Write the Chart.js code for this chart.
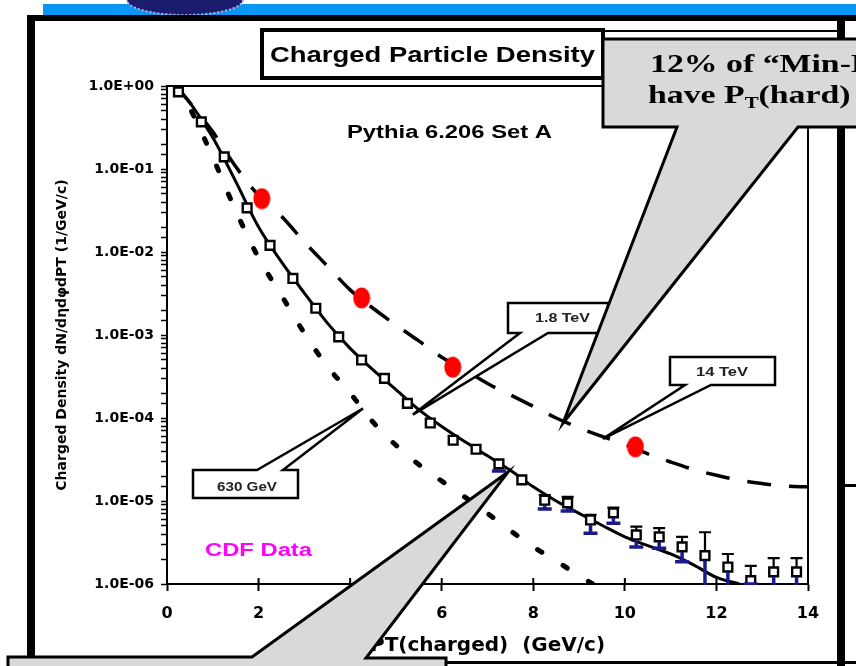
<!DOCTYPE html>
<html>
<head>
<meta charset="utf-8">
<script src="https://cdn.jsdelivr.net/npm/chart.js@4.4.1/dist/chart.umd.min.js"></script>
<style>
    html, body { margin: 0; padding: 0; background: #fff; }
    canvas { display: block; }
</style>
</head>
<body>
<canvas id="densityChart" width="856" height="666"></canvas>
<script>
// CDF data (open squares), PT bin centres in GeV/c
const cdfPt = [0.25, 0.75, 1.25, 1.75, 2.25, 2.75, 3.25, 3.75, 4.25, 4.75, 5.25, 5.75, 6.25, 6.75,
    7.25, 7.75, 8.25, 8.75, 9.25, 9.75, 10.25, 10.75, 11.25, 11.75, 12.25, 12.75, 13.25, 13.75];
const cdfDensity = [0.85, 0.37, 0.14, 0.034, 0.012, 0.0048, 0.0021, 0.00095, 0.0005, 0.0003, 0.00015, 0.000087,
    0.000054, 0.000042, 0.000028, 0.000018, 0.0000102, 0.0000095, 0.0000059, 0.0000072, 0.0000039, 0.0000037,
    0.0000028, 0.0000022, 0.0000016, 0.0000011, 0.0000014, 0.0000014];
// upper end of the error bar (black) and lower end (blue)
const cdfUpper = [null, null, null, null, null, null, null, null, null, null, null, null, null, null,
    null, null, 0.0000118, 0.0000112, 0.0000068, 0.0000083, 0.0000049, 0.0000047, 0.0000037, 0.0000042,
    0.0000023, 0.00000165, 0.00000205, 0.00000205];
const cdfLower = [null, null, null, null, null, null, null, null, null, null, null, null, null, null,
    0.000023, null, 0.000008, 0.0000076, 0.0000041, 0.0000054, 0.0000028, 0.0000027, 0.00000185, 0.0000005,
    0.0000009, 0.000001, 0.0000008, 0.0000008];

// Pythia 6.206 Set A curves
const pt18 = [0.2, 0.5, 1, 1.5, 2, 2.5, 3, 3.5, 4, 4.5, 5, 5.5, 6, 6.5, 7, 7.5, 8, 8.5, 9, 9.5, 10, 10.5, 11, 11.5, 12, 12.5];
const tev18 = [1.0, 0.63, 0.24, 0.071, 0.02, 0.0076, 0.0032, 0.0014, 0.00069, 0.00038, 0.00022, 0.000126, 0.000079,
    0.000052, 0.000035, 0.0000234, 0.0000148, 0.00001, 0.0000071, 0.0000051, 0.0000037, 0.0000029, 0.0000023,
    0.0000017, 0.0000012, 0.000001];
const pt630 = [0.2, 0.5, 1, 1.5, 2, 2.5, 3, 3.5, 4, 4.5, 5, 5.5, 6, 6.5, 7, 7.5, 8, 8.5, 9, 9.3];
const gev630 = [1.0, 0.54, 0.138, 0.0316, 0.0085, 0.003, 0.00105, 0.00042, 0.0002, 0.000089, 0.000047, 0.0000275,
    0.0000174, 0.0000112, 0.0000071, 0.0000044, 0.0000028, 0.0000019, 0.00000126, 0.000001];
const pt14 = [0.2, 0.5, 1, 1.5, 2, 2.5, 3, 3.5, 4, 4.5, 5, 5.5, 6, 6.5, 7, 7.5, 8, 8.5, 9, 9.5, 10, 10.5, 11, 11.5,
    12, 12.5, 13, 13.5, 14];
const tev14 = [1.0, 0.63, 0.28, 0.107, 0.048, 0.027, 0.0132, 0.0068, 0.0035, 0.0021, 0.00132, 0.00085, 0.00054,
    0.00038, 0.00026, 0.00019, 0.000138, 0.0001, 0.000076, 0.00006, 0.000048, 0.000037, 0.0000295, 0.000024,
    0.0000204, 0.0000178, 0.0000162, 0.0000151, 0.0000148];

// red markers on the 14 TeV curve
const redPt = [2.07, 4.25, 6.24, 10.23];
const redDensity = [0.044, 0.0028, 0.00041, 0.000045];

// callout tips (data coordinates): 1.8 TeV, 14 TeV, 630 GeV, top grey, bottom grey
const tipPt = [5.37, 9.52, 4.28, 8.65, 7.45];
const tipDensity = [0.00011, 0.000056, 0.00013, 0.000087, 0.0000224];

const xTickLabels = ['0', '2', '4', '6', '8', '10', '12', '14'];

function toPoints(xs, ys) {
    return xs.map((x, i) => ({ x: x, y: ys[i] }));
}

function expLabel(v) {
    const e = Math.round(Math.log10(v));
    if (Math.abs(v / Math.pow(10, e) - 1) > 1e-6) return '';
    return '1.0E' + (e < 0 ? '-' : '+') + String(Math.abs(e)).padStart(2, '0');
}

// red ellipse marker
const redDot = document.createElement('canvas');
redDot.width = 18;
redDot.height = 22;
const rc = redDot.getContext('2d');
rc.fillStyle = '#ff0000';
rc.beginPath();
rc.ellipse(9, 11, 8.5, 10.5, 0, 0, Math.PI * 2);
rc.fill();

function stretchText(ctx, text, x, y, width, font, color) {
    ctx.save();
    ctx.font = font;
    ctx.fillStyle = color;
    ctx.textBaseline = 'alphabetic';
    ctx.textAlign = 'left';
    const w = ctx.measureText(text).width;
    ctx.translate(x, y);
    ctx.scale(width / w, 1);
    ctx.fillText(text, 0, 0);
    ctx.restore();
}

function shape(ctx, pts, fill, lw) {
    ctx.beginPath();
    ctx.moveTo(pts[0][0], pts[0][1]);
    for (let i = 1; i < pts.length; i++) ctx.lineTo(pts[i][0], pts[i][1]);
    ctx.closePath();
    ctx.fillStyle = fill;
    ctx.fill();
    ctx.lineWidth = lw;
    ctx.strokeStyle = '#000';
    ctx.lineJoin = 'miter';
    ctx.stroke();
}

// slide background and frame
const slideFrame = {
    id: 'slideFrame',
    beforeDraw(chart) {
        const ctx = chart.ctx;
        ctx.save();
        ctx.fillStyle = '#fff';
        ctx.fillRect(0, 0, chart.width, chart.height);
        ctx.fillStyle = '#0a96f5';
        ctx.fillRect(43, 4, 813, 11);
        // logo
        ctx.beginPath();
        ctx.ellipse(185, 0, 58, 15, 0, 0, Math.PI * 2);
        ctx.fillStyle = '#1c1c6e';
        ctx.fill();
        ctx.lineWidth = 2;
        ctx.setLineDash([2, 2]);
        ctx.strokeStyle = '#b0b0d8';
        ctx.stroke();
        ctx.setLineDash([]);
        ctx.fillStyle = '#000';
        ctx.fillRect(27, 15, 829, 6);
        ctx.fillRect(27, 15, 8, 643);
        ctx.fillRect(837, 15, 8, 651);
        ctx.fillRect(603, 30, 236, 2);
        ctx.fillRect(845, 484, 11, 3);
        ctx.restore();
    }
};

// CDF error bars
const errorBars = {
    id: 'errorBars',
    afterDatasetsDraw(chart) {
        const { ctx, chartArea, scales: { x, y } } = chart;
        ctx.save();
        ctx.beginPath();
        ctx.rect(chartArea.left, chartArea.top, chartArea.width, chartArea.height + 1);
        ctx.clip();
        cdfPt.forEach((pt, i) => {
            const px = x.getPixelForValue(pt);
            const py = y.getPixelForValue(cdfDensity[i]);
            if (cdfUpper[i] !== null) {
                const top = y.getPixelForValue(cdfUpper[i]);
                ctx.strokeStyle = '#000';
                ctx.lineWidth = 2.2;
                ctx.beginPath();
                if (top < py - 5) {
                    ctx.moveTo(px, py - 5);
                    ctx.lineTo(px, top);
                }
                ctx.moveTo(px - 6, top);
                ctx.lineTo(px + 6, top);
                ctx.stroke();
            }
            if (cdfLower[i] !== null) {
                const bot = y.getPixelForValue(cdfLower[i]);
                ctx.strokeStyle = '#1a1a8c';
                ctx.lineWidth = 3.5;
                ctx.beginPath();
                if (bot > py + 5) {
                    ctx.moveTo(px, py + 5);
                    ctx.lineTo(px, bot);
                }
                ctx.moveTo(px - 7, bot);
                ctx.lineTo(px + 7, bot);
                ctx.stroke();
            }
        });
        ctx.restore();
    }
};

// plot box, texts and callouts
const overlay = {
    id: 'overlay',
    afterDraw(chart) {
        const { ctx, chartArea, scales: { x, y } } = chart;
        const tip = (i) => [x.getPixelForValue(tipPt[i]), y.getPixelForValue(tipDensity[i])];
        ctx.save();
        // plot frame top / right
        ctx.strokeStyle = '#000';
        ctx.lineWidth = 2;
        ctx.beginPath();
        ctx.moveTo(chartArea.left, chartArea.top);
        ctx.lineTo(chartArea.right, chartArea.top);
        ctx.lineTo(chartArea.right, chartArea.bottom);
        ctx.stroke();
        // x ticks crossing the axis
        ctx.beginPath();
        x.ticks.forEach(t => {
            const px = x.getPixelForValue(t.value);
            ctx.moveTo(px, chartArea.bottom);
            ctx.lineTo(px, chartArea.bottom - 6);
        });
        ctx.stroke();

        stretchText(ctx, 'Pythia 6.206 Set A', 347, 138, 205, 'bold 18px "Liberation Sans"', '#000');
        stretchText(ctx, 'CDF Data', 205, 556, 107, 'bold 18px "Liberation Sans"', '#ff00ff');

        // title box
        ctx.fillStyle = '#fff';
        ctx.fillRect(262, 30, 341, 48);
        ctx.lineWidth = 4;
        ctx.strokeRect(262, 30, 341, 48);
        stretchText(ctx, 'Charged Particle Density', 270, 62, 325, 'bold 22px "Liberation Sans"', '#000');

        // curve labels
        const t18 = tip(0), t14 = tip(1), t630 = tip(2);
        shape(ctx, [[508, 303], [608, 303], [608, 333], [548, 333], t18, [520, 333], [508, 333]], '#fff', 2.5);
        stretchText(ctx, '1.8 TeV', 535, 322, 55, 'bold 12px "Liberation Sans"', '#222');
        shape(ctx, [[670, 357], [775, 357], [775, 385], [711, 385], t14, [685, 385], [670, 385]], '#fff', 2.5);
        stretchText(ctx, '14 TeV', 696, 376, 52, 'bold 12px "Liberation Sans"', '#222');
        shape(ctx, [[193, 470], [257, 470], t630, [283, 470], [298, 470], [298, 498], [193, 498]], '#fff', 2.5);
        stretchText(ctx, '630 GeV', 217, 491, 60, 'bold 12px "Liberation Sans"', '#222');

        // grey callout, top right
        shape(ctx, [[603, 39], [880, 39], [880, 127], [798, 127], tip(3), [677, 127], [603, 127]], '#d9d9d9', 3);
        ctx.fillStyle = '#000';
        ctx.textBaseline = 'alphabetic';
        ctx.save();
        ctx.translate(650, 72);
        ctx.scale(1.3, 1);
        ctx.font = 'bold 26px "Liberation Serif"';
        ctx.fillText('12% of \u201cMin-Bias\u201d events', 0, 0);
        ctx.restore();
        ctx.save();
        ctx.translate(648, 103);
        ctx.scale(1.3, 1);
        ctx.font = 'bold 26px "Liberation Serif"';
        let w = ctx.measureText('have P').width;
        ctx.fillText('have P', 0, 0);
        ctx.font = 'bold 16px "Liberation Serif"';
        ctx.fillText('T', w, 5);
        w += ctx.measureText('T').width;
        ctx.font = 'bold 26px "Liberation Serif"';
        ctx.fillText('(hard) > 5 GeV/c', w, 0);
        ctx.restore();

        // grey callout, bottom
        shape(ctx, [[8, 657], [252, 657], tip(4), [366, 658], [446, 658], [446, 670], [8, 670]], '#d9d9d9', 3);
        ctx.fillStyle = '#000';
        ctx.fillRect(446, 661, 410, 3);
        ctx.restore();
    }
};

const ctxDensity = document.getElementById('densityChart').getContext('2d');

new Chart(ctxDensity, {
    type: 'scatter',
    data: {
        datasets: [{
            label: 'Pythia 14 TeV markers',
            data: toPoints(redPt, redDensity),
            pointStyle: redDot,
            pointRadius: 9
        }, {
            label: 'CDF Data',
            data: toPoints(cdfPt, cdfDensity),
            pointStyle: 'rect',
            pointRadius: 6.2,
            pointBackgroundColor: '#fff',
            pointBorderColor: '#000',
            pointBorderWidth: 2.4
        }, {
            label: '1.8 TeV',
            data: toPoints(pt18, tev18),
            showLine: true,
            borderColor: '#000',
            borderWidth: 3,
            pointRadius: 0,
            cubicInterpolationMode: 'monotone'
        }, {
            label: '630 GeV',
            data: toPoints(pt630, gev630),
            showLine: true,
            borderColor: '#000',
            borderWidth: 5,
            borderDash: [5, 25],
            borderCapStyle: 'round',
            pointRadius: 0,
            cubicInterpolationMode: 'monotone'
        }, {
            label: '14 TeV',
            data: toPoints(pt14, tev14),
            showLine: true,
            borderColor: '#000',
            borderWidth: 3.5,
            borderDash: [24, 18],
            pointRadius: 0,
            cubicInterpolationMode: 'monotone'
        }]
    },
    options: {
        responsive: false,
        animation: false,
        devicePixelRatio: 1,
        layout: {
            padding: { left: 0, top: 86, right: 48, bottom: 0 }
        },
        scales: {
            x: {
                type: 'linear',
                min: 0,
                max: 14,
                afterFit: function (scale) { scale.height = 82; },
                border: { color: '#000', width: 2 },
                grid: { drawOnChartArea: false, tickLength: 7, tickColor: '#000', tickWidth: 2 },
                ticks: {
                    stepSize: 2,
                    padding: 13,
                    color: '#000',
                    font: { family: 'DejaVu Sans', weight: 'bold', size: 16 },
                    callback: function (value) { return xTickLabels[Math.round(value / 2)]; }
                },
                title: {
                    display: true,
                    text: 'PT(charged)  (GeV/c)',
                    color: '#000',
                    font: { family: 'DejaVu Sans', weight: 'bold', size: 20 },
                    padding: { top: 0, bottom: 8 }
                }
            },
            y: {
                type: 'logarithmic',
                min: 1e-6,
                max: 1,
                afterFit: function (scale) { scale.width = 167; },
                border: { color: '#000', width: 2 },
                grid: { drawOnChartArea: false, tickLength: 6, tickColor: '#000', tickWidth: 1.5 },
                ticks: {
                    autoSkip: false,
                    padding: 7,
                    color: '#000',
                    font: { family: 'DejaVu Sans', weight: 'bold', size: 14 },
                    callback: function (value) { return expLabel(value); }
                },
                title: {
                    display: true,
                    text: 'Charged Density dN/d\u03b7d\u03c6dPT (1/GeV/c)',
                    color: '#000',
                    font: { family: 'DejaVu Sans', weight: 'bold', size: 14 },
                    padding: { top: 54, bottom: 0 }
                }
            }
        },
        plugins: {
            legend: { display: false },
            tooltip: { enabled: false }
        }
    },
    plugins: [slideFrame, errorBars, overlay]
});
</script>
</body>
</html>
